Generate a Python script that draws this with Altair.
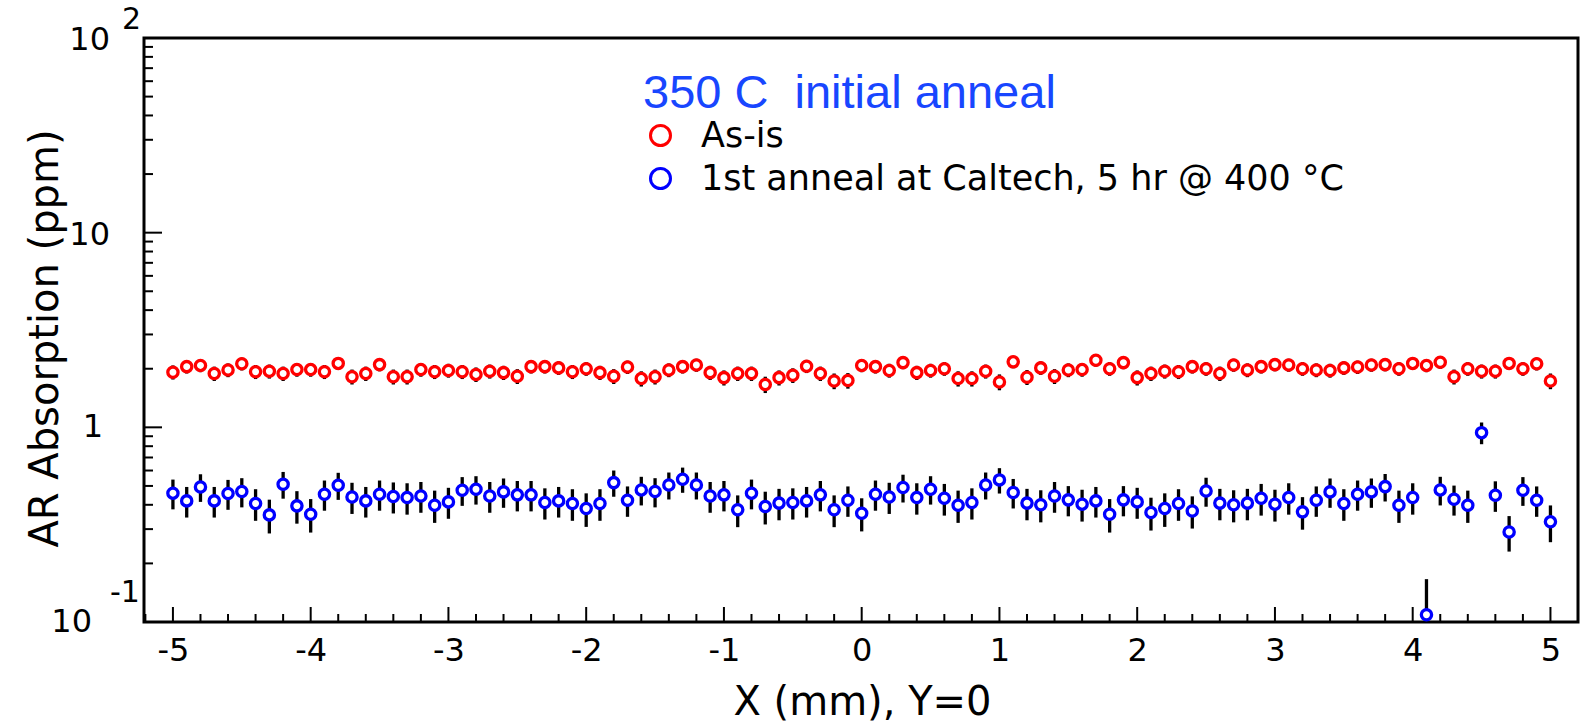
import altair as alt
import pandas as pd

# ---------------- data ----------------
x_mm = [round(-5 + 0.1 * i, 1) for i in range(101)]

as_is = [1.92, 2.05, 2.08, 1.89, 1.97, 2.12, 1.93, 1.94, 1.89, 1.98,
         1.98, 1.93, 2.13, 1.82, 1.89, 2.10, 1.82, 1.82, 1.98, 1.93,
         1.96, 1.93, 1.87, 1.94, 1.91, 1.83, 2.05, 2.05, 2.02, 1.93,
         2.00, 1.91, 1.83, 2.04, 1.78, 1.82, 1.97, 2.05, 2.09, 1.91,
         1.80, 1.89, 1.89, 1.66, 1.80, 1.85, 2.06, 1.89, 1.73, 1.74,
         2.08, 2.05, 1.96, 2.15, 1.91, 1.96, 2.00, 1.78, 1.78, 1.94,
         1.71, 2.17, 1.81, 2.02, 1.83, 1.97, 1.98, 2.21, 2.00, 2.15,
         1.80, 1.89, 1.94, 1.93, 2.05, 2.00, 1.89, 2.09, 1.97, 2.05,
         2.10, 2.09, 2.00, 1.97, 1.96, 2.02, 2.04, 2.09, 2.10, 2.00,
         2.13, 2.08, 2.16, 1.82, 2.00, 1.94, 1.94, 2.13, 2.00, 2.12,
         1.73]
as_is_err = [0.16] * len(as_is)

anneal = [0.459, 0.419, 0.494, 0.419, 0.457, 0.468, 0.406, 0.355, 0.510, 0.395,
          0.358, 0.453, 0.504, 0.439, 0.419, 0.453, 0.441, 0.436, 0.444, 0.398,
          0.414, 0.475, 0.481, 0.444, 0.466, 0.450, 0.450, 0.411, 0.419, 0.406,
          0.383, 0.406, 0.520, 0.422, 0.477, 0.468, 0.506, 0.541, 0.506, 0.444,
          0.450, 0.377, 0.459, 0.392, 0.408, 0.411, 0.419, 0.450, 0.377, 0.422,
          0.362, 0.453, 0.439, 0.491, 0.436, 0.481, 0.432, 0.398, 0.411, 0.506,
          0.537, 0.463, 0.408, 0.400, 0.444, 0.424, 0.403, 0.419, 0.358, 0.424,
          0.414, 0.365, 0.383, 0.406, 0.372, 0.471, 0.408, 0.400, 0.408, 0.432,
          0.403, 0.436, 0.368, 0.422, 0.466, 0.406, 0.453, 0.466, 0.496, 0.398,
          0.436, 0.109, 0.477, 0.427, 0.398, 0.939, 0.448, 0.290, 0.475, 0.422,
          0.327]
anneal_err = [0.080, 0.075, 0.080, 0.075, 0.080, 0.080, 0.075, 0.070, 0.080, 0.075,
              0.070, 0.080, 0.080, 0.080, 0.075, 0.080, 0.080, 0.080, 0.080, 0.075,
              0.075, 0.080, 0.080, 0.080, 0.080, 0.080, 0.080, 0.075, 0.075, 0.075,
              0.075, 0.075, 0.080, 0.075, 0.080, 0.080, 0.080, 0.080, 0.080, 0.080,
              0.080, 0.070, 0.080, 0.075, 0.075, 0.075, 0.075, 0.080, 0.070, 0.075,
              0.070, 0.080, 0.080, 0.080, 0.080, 0.080, 0.080, 0.075, 0.075, 0.080,
              0.080, 0.080, 0.075, 0.075, 0.080, 0.075, 0.075, 0.075, 0.070, 0.075,
              0.075, 0.070, 0.075, 0.075, 0.070, 0.080, 0.075, 0.075, 0.075, 0.080,
              0.075, 0.080, 0.070, 0.075, 0.080, 0.075, 0.080, 0.080, 0.080, 0.075,
              0.080, 0.057, 0.080, 0.075, 0.075, 0.120, 0.080, 0.060, 0.080, 0.075,
              0.070]

series_names = ["As-is", "1st anneal at Caltech, 5 hr @ 400 °C"]
series_colors = ["#ff0000", "#0000ff"]
legend_title = "350 C \u00a0initial anneal"

x_tick_labels = [-5, -4, -3, -2, -1, 0, 1, 2, 3, 4, 5]
x_minor = [round(-5.2 + 0.2 * k, 1) for k in range(53)]
x_minor = [v for v in x_minor if abs(v) <= 5.2 and abs(v - round(v)) > 1e-6]

y_major = [0.1, 1, 10, 100]
y_minor = [m * d for d in (0.1, 1, 10) for m in range(2, 10)]

y_lab_vals = [100, 10, 1, 0.1]
y_lab_base = ["10", "10", "1", "10"]
y_lab_exp = ["2", "", "", "-1"]

# ---------------- frames ----------------
rows = []
for i, xv in enumerate(x_mm):
    rows.append({"x": xv, "y": as_is[i], "lo": as_is[i] - as_is_err[i],
                 "hi": as_is[i] + as_is_err[i], "series": series_names[0]})
for i, xv in enumerate(x_mm):
    rows.append({"x": xv, "y": anneal[i], "lo": anneal[i] - anneal_err[i],
                 "hi": anneal[i] + anneal_err[i], "series": series_names[1]})
df = pd.DataFrame(rows)

lab_df = pd.DataFrame({"v": y_lab_vals, "base": y_lab_base, "exp": y_lab_exp})

W, H = 1434, 584
FONT = "DejaVu Sans"

x_scale = alt.Scale(domain=[-5.21, 5.2], nice=False, zero=False)
y_scale = alt.Scale(type="log", domain=[0.1, 100], nice=False)

x_axis = alt.Axis(values=x_tick_labels, labelExpr="'' + datum.value",
                  ticks=False, tickSize=0, grid=False,
                  domain=False, labelFont=FONT, labelFontSize=32, labelColor="black",
                  labelBaseline="alphabetic", labelPadding=38,
                  title="X (mm), Y=0", titleFont=FONT, titleFontSize=40,
                  titleFontWeight="normal", titleColor="black",
                  titleX=718, titleY=92, titleAlign="center", titleBaseline="alphabetic")
y_axis = alt.Axis(labels=False, ticks=False, tickSize=0, grid=False, domain=False,
                  title="AR Absorption (ppm)", titleFont=FONT, titleFontSize=40,
                  titleFontWeight="normal", titleColor="black",
                  titleX=-87, titleY=300, titleAngle=-90, titleAlign="center",
                  titleBaseline="alphabetic")

X = alt.X("x:Q", scale=x_scale, axis=x_axis)
Y = alt.Y("y:Q", scale=y_scale, axis=y_axis)

errbars = alt.Chart(df).mark_rule(color="black", strokeWidth=3.3, clip=True).encode(
    x=X, y=alt.Y("lo:Q", scale=y_scale, axis=y_axis), y2="hi:Q")

points = alt.Chart(df).mark_point(shape="circle", filled=False, fill="white",
                                  size=105, strokeWidth=3.3, opacity=1).encode(
    x=X, y=Y,
    stroke=alt.Stroke("series:N",
                      scale=alt.Scale(domain=series_names, range=series_colors),
                      legend=alt.Legend(title=legend_title, orient="none",
                                        legendX=499, legendY=33,
                                        titleFont="Liberation Sans", titleFontSize=47,
                                        titleFontWeight="normal", titleColor="#1846ff",
                                        titlePadding=0, titleLimit=0,
                                        labelFont=FONT, labelFontSize=35,
                                        labelColor="black", labelLimit=0, labelOffset=23,
                                        symbolType="circle", symbolSize=400,
                                        symbolStrokeWidth=3, symbolFillColor="white",
                                        rowPadding=7, padding=0)))

tick_y_major = alt.Chart(pd.DataFrame({"v": y_major})).mark_rule(
    color="black", strokeWidth=2).encode(
    y=alt.Y("v:Q", scale=y_scale, axis=y_axis), x=alt.value(0), x2=alt.value(18))
tick_y_minor = alt.Chart(pd.DataFrame({"v": y_minor})).mark_rule(
    color="black", strokeWidth=2).encode(
    y=alt.Y("v:Q", scale=y_scale, axis=y_axis), x=alt.value(0), x2=alt.value(9))
tick_x_major = alt.Chart(pd.DataFrame({"v": x_tick_labels})).mark_rule(
    color="black", strokeWidth=2).encode(
    x=alt.X("v:Q", scale=x_scale, axis=x_axis), y=alt.value(H), y2=alt.value(H - 15))
tick_x_minor = alt.Chart(pd.DataFrame({"v": x_minor})).mark_rule(
    color="black", strokeWidth=2).encode(
    x=alt.X("v:Q", scale=x_scale, axis=x_axis), y=alt.value(H), y2=alt.value(H - 8))

labY = alt.Y("v:Q", scale=y_scale, axis=y_axis)
lab_a = alt.Chart(lab_df).transform_filter("datum.v >= 10").mark_text(
    font=FONT, fontSize=32, align="right", baseline="middle", dy=2, color="black").encode(
    y=labY, x=alt.value(-34), text="base:N")
lab_b = alt.Chart(lab_df).transform_filter("datum.v == 1").mark_text(
    font=FONT, fontSize=32, align="right", baseline="middle", color="black").encode(
    y=labY, x=alt.value(-41), text="base:N")
lab_c = alt.Chart(lab_df).transform_filter("datum.v < 0.5").mark_text(
    font=FONT, fontSize=32, align="right", baseline="middle", color="black").encode(
    y=labY, x=alt.value(-52), text="base:N")
exp_a = alt.Chart(lab_df).transform_filter("datum.v == 100").mark_text(
    font=FONT, fontSize=30, align="left", baseline="middle", dy=-18, color="black").encode(
    y=labY, x=alt.value(-22), text="exp:N")
exp_b = alt.Chart(lab_df).transform_filter("datum.v < 0.5").mark_text(
    font=FONT, fontSize=30, align="left", baseline="middle", dy=-29, color="black").encode(
    y=labY, x=alt.value(-34), text="exp:N")

chart = alt.layer(
    tick_y_minor, tick_y_major, tick_x_minor, tick_x_major,
    errbars, points, lab_a, lab_b, lab_c, exp_a, exp_b
).properties(
    width=W, height=H,
    autosize=alt.AutoSizeParams(type="none"),
    padding={"left": 144, "top": 38, "right": 2, "bottom": 104},
    background="white",
).configure_view(stroke="black", strokeWidth=3, fill="white")

chart.save("out.html", embed_options={"renderer": "svg", "actions": False})
